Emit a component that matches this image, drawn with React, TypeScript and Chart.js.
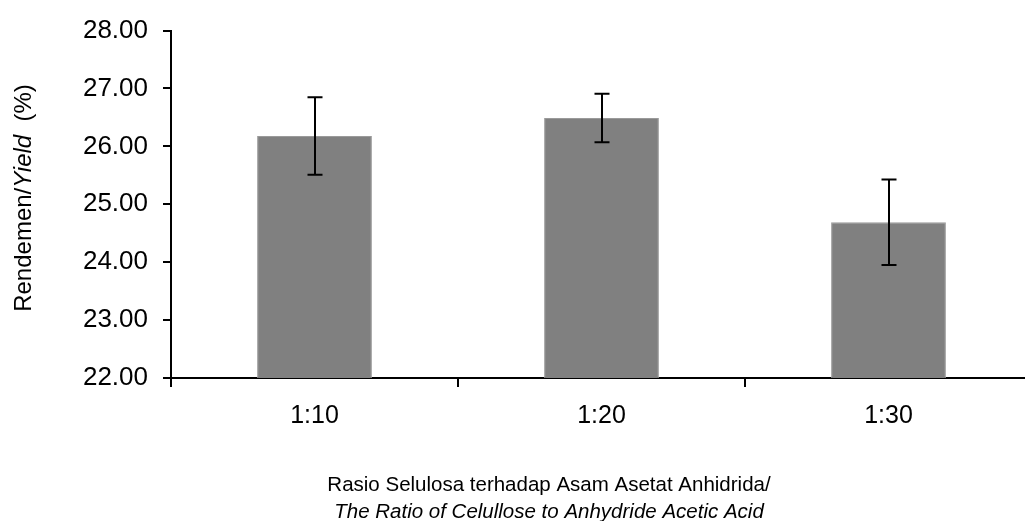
import React, { useEffect, useRef } from "react";
import { Chart, registerables } from "chart.js";

Chart.register(...registerables);

const categories = ["1:10", "1:20", "1:30"];
const yieldValues = [26.18, 26.49, 24.69];
const errorValues = [0.67, 0.42, 0.74];
const yMin = 22;
const yMax = 28;
const yStep = 1;

const FONT = "'Liberation Sans', Arial, sans-serif";

const errorBarPlugin = {
  id: "errorBars",
  afterDatasetsDraw(chart: any) {
    const { ctx } = chart;
    const meta = chart.getDatasetMeta(0);
    const y = chart.scales.y;
    ctx.save();
    ctx.strokeStyle = "#000";
    ctx.lineWidth = 2;
    meta.data.forEach((bar: any, i: number) => {
      const v = yieldValues[i];
      const e = errorValues[i];
      const x = Math.round(bar.x);
      const top = y.getPixelForValue(v + e);
      const bot = y.getPixelForValue(v - e);
      ctx.beginPath();
      ctx.moveTo(x, top);
      ctx.lineTo(x, bot);
      ctx.moveTo(x - 7.5, top);
      ctx.lineTo(x + 7.5, top);
      ctx.moveTo(x - 7.5, bot);
      ctx.lineTo(x + 7.5, bot);
      ctx.stroke();
    });
    ctx.restore();
  },
};

const titlesPlugin = {
  id: "titles",
  afterDraw(chart: any) {
    const { ctx } = chart;
    ctx.save();
    ctx.fillStyle = "#000";
    ctx.textBaseline = "alphabetic";
    const parts = [
      { t: "Rendemen/", f: `24px ${FONT}` },
      { t: "Yield", f: `italic 24px ${FONT}` },
      { t: "  (%)", f: `24px ${FONT}` },
    ];
    let total = 0;
    const widths = parts.map((p) => {
      ctx.font = p.f;
      const w = ctx.measureText(p.t).width;
      total += w;
      return w;
    });
    ctx.translate(31, 198);
    ctx.rotate(-Math.PI / 2);
    let x = -total / 2;
    parts.forEach((p, i) => {
      ctx.font = p.f;
      ctx.textAlign = "left";
      ctx.fillText(p.t, x, 0);
      x += widths[i];
    });
    ctx.setTransform(1, 0, 0, 1, 0, 0);
    ctx.textAlign = "center";
    ctx.font = `20.5px ${FONT}`;
    ctx.fillText("Rasio Selulosa terhadap Asam Asetat Anhidrida/", 549, 491);
    ctx.font = `italic 20.5px ${FONT}`;
    ctx.fillText("The Ratio of Celullose to Anhydride Acetic Acid", 549, 518);
    ctx.restore();
  },
};

export default function App() {
  const ref = useRef<HTMLCanvasElement | null>(null);
  useEffect(() => {
    if (!ref.current) return;
    const chart = new Chart(ref.current, {
      type: "bar",
      data: {
        labels: categories,
        datasets: [
          {
            data: yieldValues,
            backgroundColor: "#808080",
            borderColor: "#9a9a9a",
            borderWidth: 1,
            barPercentage: 0.4,
            categoryPercentage: 1,
          },
        ],
      },
      options: {
        responsive: false,
        animation: false,
        layout: { padding: { top: 29, right: 8, left: 0, bottom: 0 } },
        plugins: {
          legend: { display: false },
          tooltip: { enabled: false },
        },
        scales: {
          x: {
            offset: true,
            grid: {
              offset: true,
              drawOnChartArea: false,
              drawTicks: true,
              tickLength: 9,
              color: "#000",
              lineWidth: 2,
            },
            border: { display: true, color: "#000", width: 2 },
            ticks: {
              color: "#000",
              font: { family: FONT, size: 25 },
              padding: 14,
            },
            afterFit(scale: any) {
              scale.height = 143;
            },
          },
          y: {
            min: yMin,
            max: yMax,
            ticks: {
              stepSize: yStep,
              color: "#000",
              font: { family: FONT, size: 26 },
              padding: 15,
              callback: (v: any) => Number(v).toFixed(2),
            },
            grid: {
              drawOnChartArea: false,
              drawTicks: true,
              tickLength: 8,
              color: "#000",
              lineWidth: 2,
            },
            border: { display: true, color: "#000", width: 2 },
            afterFit(scale: any) {
              scale.width = 171;
            },
          },
        },
      },
      plugins: [errorBarPlugin, titlesPlugin],
    });
    return () => chart.destroy();
  }, []);
  return (
    <div
      style={{
        position: "fixed",
        left: 0,
        top: 0,
        width: 1025,
        height: 521,
        overflow: "hidden",
        background: "#fff",
      }}
    >
      <canvas ref={ref} width={1040} height={521} style={{ display: "block" }} />
    </div>
  );
}
